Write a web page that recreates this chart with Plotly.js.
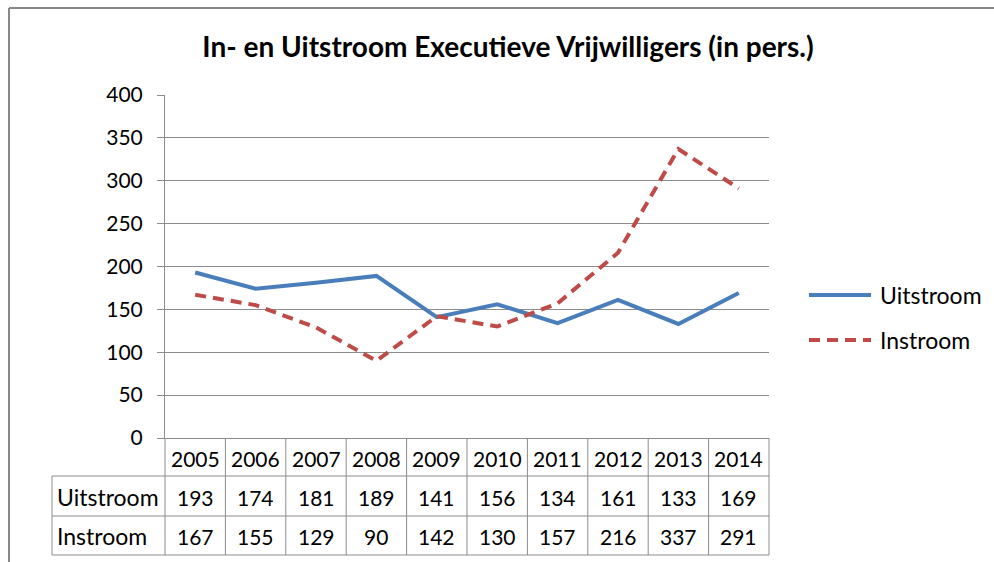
<!DOCTYPE html>
<html><head><meta charset="utf-8">
<script src="https://cdn.plot.ly/plotly-3.0.1.min.js"></script>
<style>html,body{margin:0;padding:0;background:#fff;}#chart{width:994px;height:562px;}</style>
</head><body><div id="chart"></div>
<script>
const years = ['2005','2006','2007','2008','2009','2010','2011','2012','2013','2014'];
const uitstroom = [193,174,181,189,141,156,134,161,133,169];
const instroom = [167,155,129,90,142,130,157,216,337,291];
const seriesNames = ['Uitstroom','Instroom'];
const yTicks = [0,50,100,150,200,250,300,350,400];

const FONT = 'Lato, "Open Sans", sans-serif';
const FS = 21;
const FSW = 23;
const GRID = '#8c8c8c';
const BLUE = '#4a7ebb';
const RED = '#be4b48';

// pixel geometry helpers (plot area 165..769 x 95..438)
const L=165, R=769, T=95, B=438;
const pw = R-L, ph = B-T;
const px = v => (v-L)/pw;
const py = v => (B-v)/ph;

const traces = [
  {x: years, y: uitstroom, name: seriesNames[0], type:'scatter', mode:'lines',
   line:{color:BLUE, width:4}, showlegend:false, hoverinfo:'x+y+name'},
  {x: years, y: instroom, name: seriesNames[1], type:'scatter', mode:'lines',
   line:{color:RED, width:4, dash:'11px,7px'}, showlegend:false, hoverinfo:'x+y+name'}
];

const shapes = [];
const annotations = [];
const line = (x0,y0,x1,y1,c,w)=>shapes.push({type:'line',xref:'paper',yref:'paper',x0,y0,x1,y1,line:{color:c||GRID,width:w||1}});

// outer frame
line(px(9), py(8), px(1000), py(8), '#888', 2);
line(px(9), py(8), px(9), py(600), '#888', 2);

// table rows
const rowHeaderY = py(458), rowU = py(497), rowI = py(536);
const hLines = [476, 516, 555];
hLines.forEach(v => line(px(52), py(v), 1, py(v)));
for (let i=0;i<=years.length;i++){
  line(i/years.length, 0, i/years.length, py(555));
}
line(px(52), py(476), px(52), py(555));

const txt = (x, xref, y, s, anchor, size) => annotations.push({x, xref, y, yref:'paper', text:s, showarrow:false,
  xanchor:anchor, yanchor:'middle', font:{family:FONT,size:size,color:'#000'}});

years.forEach((yr,i)=>{
  txt(i, 'x', rowHeaderY, yr, 'center', FS);
  txt(i, 'x', rowU, String(uitstroom[i]), 'center', FS);
  txt(i, 'x', rowI, String(instroom[i]), 'center', FS);
});
txt(px(55), 'paper', rowU, seriesNames[0], 'left', FSW);
txt(px(55), 'paper', rowI, seriesNames[1], 'left', FSW);

// legend
shapes.push({type:'line',xref:'paper',yref:'paper',x0:px(809),x1:px(871),y0:py(295),y1:py(295),line:{color:BLUE,width:4}});
shapes.push({type:'line',xref:'paper',yref:'paper',x0:px(809),x1:px(871),y0:py(340),y1:py(340),line:{color:RED,width:4,dash:'11px,7px'}});
txt(px(878), 'paper', py(295), seriesNames[0], 'left', FSW);
txt(px(878), 'paper', py(340), seriesNames[1], 'left', FSW);

const layout = {
  width:994, height:562,
  margin:{l:L, r:994-R, t:T, b:562-B, pad:0},
  paper_bgcolor:'#fff', plot_bgcolor:'#fff',
  title:{text:'<b>In- en Uitstroom Executieve Vrijwilligers (in pers.)</b>', font:{family:FONT,size:28,color:'#000'},
         xref:'paper', x:(508-L)/pw, xanchor:'center', yref:'container', y:1-47/562, yanchor:'middle'},
  xaxis:{type:'category', range:[-0.5,9.5], showticklabels:false, showgrid:false, zeroline:false,
         showline:true, linecolor:GRID, linewidth:1, ticks:'', fixedrange:true},
  yaxis:{range:[0,400], tickvals:yTicks, ticktext:yTicks.map(String), showgrid:true, gridcolor:GRID, gridwidth:1,
         zeroline:false, showline:true, linecolor:GRID, linewidth:1, ticks:'outside', ticklen:7, tickcolor:GRID,
         tickfont:{family:FONT,size:FS,color:'#000'}, ticklabelstandoff:10, fixedrange:true},
  shapes, annotations, showlegend:false
};
Plotly.newPlot('chart', traces, layout, {displayModeBar:false, staticPlot:true});
</script></body></html>
